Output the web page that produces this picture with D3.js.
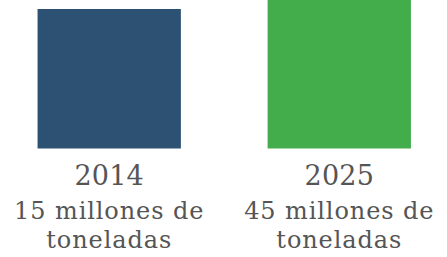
<!DOCTYPE html>
<html>
<head>
<meta charset="utf-8">
<script src="https://cdn.jsdelivr.net/npm/d3@7"></script>
<style>
  body { margin: 0; background: #fff; }
  svg { display: block; }
</style>
</head>
<body>
<div id="chart"></div>
<script>
const years = ["2014", "2025"];
const tonnes = [15, 45];
const amountLabels = ["15 millones de", "45 millones de"];
const unitLabels = ["toneladas", "toneladas"];
const colors = ["#2c5173", "#43ad4b"];

const width = 447;
const height = 257;

const svg = d3
  .select("#chart")
  .append("svg")
  .attr("width", width)
  .attr("height", height);

const dataset = years.map((y, i) => ({
  year: y,
  value: tonnes[i],
  amount: amountLabels[i],
  unit: unitLabels[i],
  color: colors[i]
}));

const xScale = d3
  .scaleBand()
  .domain(years)
  .range([0, width])
  .paddingInner(0.377)
  .paddingOuter(0.16)
  .align(0.51);

// the bigger square runs off the top of the picture
const topScale = d3.scaleLinear().domain([15, 45]).range([9, 0]);
const baseY = 148.5;

svg
  .selectAll("rect")
  .data(dataset, d => d.year)
  .join("rect")
  .attr("x", d => xScale(d.year))
  .attr("y", d => topScale(d.value))
  .attr("width", xScale.bandwidth())
  .attr("height", d => baseY - topScale(d.value))
  .attr("fill", d => d.color);

const labels = svg
  .selectAll("g.label")
  .data(dataset, d => d.year)
  .join("g")
  .attr("class", "label")
  .attr("transform", d => `translate(${xScale(d.year) + xScale.bandwidth() / 2},0)`)
  .attr("text-anchor", "middle")
  .attr("fill", "#555")
  .style("font-family", "'DejaVu Serif', serif");

labels.append("text")
  .attr("y", 185)
  .style("font-size", "27px")
  .style("letter-spacing", "0.2px")
  .text(d => d.year);
labels.append("text")
  .attr("y", 219)
  .style("font-size", "24px")
  .style("letter-spacing", "0.9px")
  .text(d => d.amount);
labels.append("text")
  .attr("y", 248)
  .style("font-size", "24px")
  .style("letter-spacing", "0.9px")
  .text(d => d.unit);
</script>
</body>
</html>
